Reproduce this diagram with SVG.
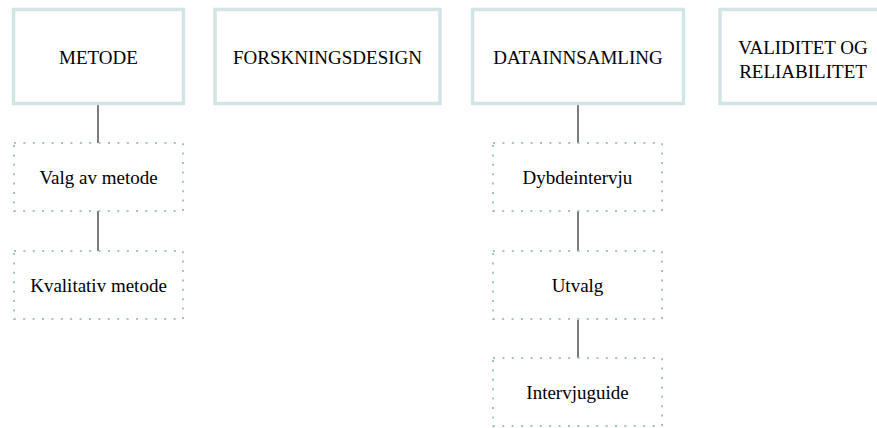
<svg xmlns="http://www.w3.org/2000/svg" width="877" height="428" viewBox="0 0 877 428">
<style>
.main{fill:#fff;stroke:#d2e4e5;stroke-width:3.5}
.sub{fill:#fff;stroke:#9fc5c9;stroke-width:2;stroke-dasharray:2 7.4}
.t{font-family:"Liberation Serif","Times New Roman",serif;font-size:19px;fill:#000;text-anchor:middle}
.c{stroke:#222;stroke-width:1.2;fill:none}
</style>
<rect width="877" height="428" fill="#fff"/>
<g id="connectors">
<line class="c" x1="98" y1="105" x2="98" y2="143"/>
<line class="c" x1="98" y1="211" x2="98" y2="251"/>
<line class="c" x1="578" y1="105" x2="578" y2="143"/>
<line class="c" x1="578" y1="211" x2="578" y2="251"/>
<line class="c" x1="578" y1="320" x2="578" y2="358"/>
</g>
<g id="metode"><rect class="main" x="13.5" y="9.5" width="170" height="94"/><text class="t" x="98.5" y="64">METODE</text></g>
<g id="forskningsdesign"><rect class="main" x="215" y="9.5" width="225" height="94"/><text class="t" x="327.5" y="64">FORSKNINGSDESIGN</text></g>
<g id="datainnsamling"><rect class="main" x="472.5" y="9.5" width="211" height="94"/><text class="t" x="578" y="64">DATAINNSAMLING</text></g>
<g id="validitet"><rect class="main" x="720" y="9.5" width="170" height="94"/><text class="t" x="803" y="54">VALIDITET OG</text><text class="t" x="803" y="78">RELIABILITET</text></g>
<g id="valg"><rect class="sub" x="14" y="143" width="169" height="68"/><text class="t" x="98.5" y="184">Valg av metode</text></g>
<g id="kvalitativ"><rect class="sub" x="14" y="251" width="169" height="68"/><text class="t" x="98.5" y="292">Kvalitativ metode</text></g>
<g id="dybdeintervju"><rect class="sub" x="493" y="143" width="169" height="68"/><text class="t" x="577.5" y="184">Dybdeintervju</text></g>
<g id="utvalg"><rect class="sub" x="493" y="251" width="169" height="68"/><text class="t" x="577.5" y="292">Utvalg</text></g>
<g id="intervjuguide"><rect class="sub" x="493" y="358" width="169" height="68"/><text class="t" x="577.5" y="399">Intervjuguide</text></g>
</svg>
